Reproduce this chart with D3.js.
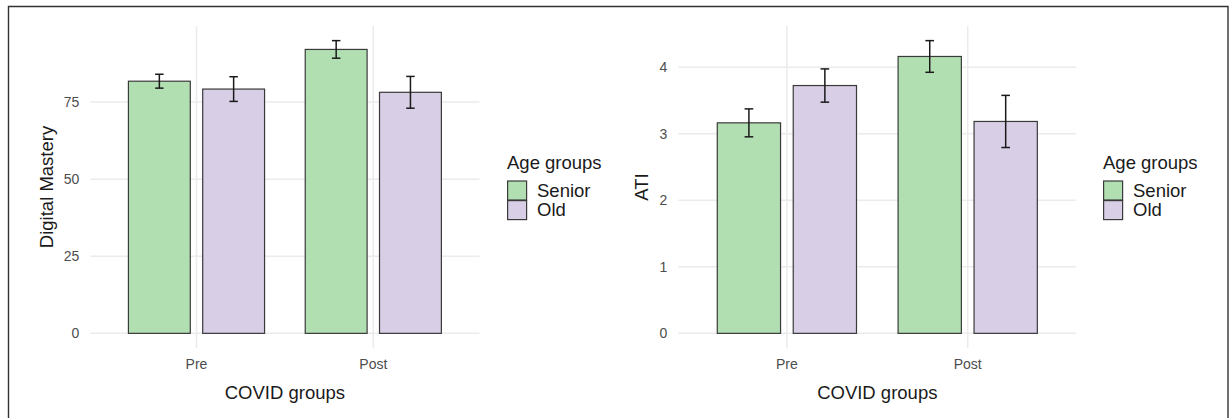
<!DOCTYPE html>
<html>
<head>
<meta charset="utf-8">
<script src="https://cdn.jsdelivr.net/npm/d3@7"></script>
<style>
  body { margin: 0; background: #fff; }
  svg { display: block; font-family: "Liberation Sans", Arial, sans-serif; }
</style>
</head>
<body>
<div id="chart"></div>
<script>
// ----------- DATA ------------
const covidGroups = ['Pre', 'Post'];
const ageGroups = ['Senior', 'Old'];

// Digital Mastery: means and error half-widths, one value per COVID group
const masterySenior = [81.75, 92.05];
const masterySeniorErr = [2.25, 2.85];
const masteryOld = [79.2, 78.15];
const masteryOldErr = [4.0, 5.15];

// ATI
const atiSenior = [3.165, 4.163];
const atiSeniorErr = [0.21, 0.238];
const atiOld = [3.726, 3.186];
const atiOldErr = [0.25, 0.392];

const masteryTicks = [0, 25, 50, 75];
const atiTicks = [0, 1, 2, 3, 4];

const colors = { Senior: '#b2dfb2', Old: '#d8cee5' };

// build rows for one panel
function makeRows(senior, seniorErr, old, oldErr) {
  const rows = [];
  covidGroups.forEach((g, i) => {
    rows.push({ covid: g, age: 'Senior', mean: senior[i], err: seniorErr[i] });
    rows.push({ covid: g, age: 'Old', mean: old[i], err: oldErr[i] });
  });
  return rows;
}

const W = 1229, H = 418;
const svg = d3.select('#chart').append('svg').attr('width', W).attr('height', H);

// outer frame (no bottom edge visible in the original)
svg.append('path')
  .attr('d', `M8.5,${H} V6.5 H1228 V${H}`)
  .attr('fill', 'none')
  .attr('stroke', '#333')
  .attr('stroke-width', 1.4);

function drawPanel(opts) {
  const rows = opts.rows;
  const left = opts.left, right = opts.right, top = 26, bottom = 348;

  const maxVal = d3.max(rows, (d) => d.mean + d.err);
  const pad = maxVal * 0.05;
  const y = d3.scaleLinear().domain([-pad, maxVal + pad]).range([bottom, top]);

  const x = d3.scaleBand().domain(covidGroups).range([left, right])
    .paddingInner(0).paddingOuter(0.1);
  const step = x.step();
  const cx = (g) => x(g) + x.bandwidth() / 2;
  const x1 = d3.scaleBand().domain(ageGroups)
    .range([-0.385 * step, 0.385 * step]).paddingInner(0.167);
  const capHalf = 0.024 * step;

  const g = svg.append('g');

  // ----------- GRID ------------
  g.selectAll('.hgrid').data(opts.ticks).enter().append('line')
    .attr('x1', left).attr('x2', right)
    .attr('y1', (d) => y(d)).attr('y2', (d) => y(d))
    .attr('stroke', '#ebebeb').attr('stroke-width', 1.5);
  g.selectAll('.vgrid').data(covidGroups).enter().append('line')
    .attr('x1', (d) => cx(d)).attr('x2', (d) => cx(d))
    .attr('y1', top).attr('y2', bottom)
    .attr('stroke', '#ebebeb').attr('stroke-width', 1.5);

  // ----------- AXES ------------
  const yAxis = g.append('g')
    .attr('transform', `translate(${left},0)`)
    .call(d3.axisLeft(y).tickValues(opts.ticks).tickFormat(d3.format('d'))
      .tickSize(0).tickPadding(11));
  yAxis.select('.domain').remove();
  yAxis.selectAll('text')
    .attr('font-size', 14).attr('fill', '#4d4d4d')
    .attr('font-family', '"Liberation Sans", Arial, sans-serif');

  const xAxis = g.append('g')
    .attr('transform', `translate(0,${bottom})`)
    .call(d3.axisBottom(x).tickSize(0).tickPadding(11));
  xAxis.select('.domain').remove();
  xAxis.selectAll('text')
    .attr('font-size', 14).attr('fill', '#4d4d4d')
    .attr('font-family', '"Liberation Sans", Arial, sans-serif');

  g.append('text')
    .attr('x', (left + right) / 2).attr('y', 399)
    .attr('text-anchor', 'middle').attr('font-size', 18.5).attr('fill', '#1a1a1a')
    .text('COVID groups');

  g.append('text')
    .attr('transform', `translate(${opts.yTitleX},${(top + bottom) / 2}) rotate(-90)`)
    .attr('text-anchor', 'middle').attr('font-size', 18.5).attr('fill', '#1a1a1a')
    .text(opts.yTitle);

  // ----------- BARS ------------
  g.selectAll('.bar').data(rows).enter().append('rect')
    .attr('x', (d) => cx(d.covid) + x1(d.age))
    .attr('width', x1.bandwidth())
    .attr('y', (d) => y(d.mean))
    .attr('height', (d) => y(0) - y(d.mean))
    .attr('fill', (d) => colors[d.age])
    .attr('stroke', '#3a3a3a').attr('stroke-width', 1.2);

  // ----------- ERROR BARS ------------
  const eb = g.selectAll('.err').data(rows).enter().append('g')
    .attr('stroke', '#1a1a1a').attr('stroke-width', 1.5);
  const ex = (d) => cx(d.covid) + x1(d.age) + x1.bandwidth() / 2;
  eb.append('line')
    .attr('x1', ex).attr('x2', ex)
    .attr('y1', (d) => y(d.mean + d.err)).attr('y2', (d) => y(d.mean - d.err));
  eb.append('line')
    .attr('x1', (d) => ex(d) - capHalf).attr('x2', (d) => ex(d) + capHalf)
    .attr('y1', (d) => y(d.mean + d.err)).attr('y2', (d) => y(d.mean + d.err));
  eb.append('line')
    .attr('x1', (d) => ex(d) - capHalf).attr('x2', (d) => ex(d) + capHalf)
    .attr('y1', (d) => y(d.mean - d.err)).attr('y2', (d) => y(d.mean - d.err));

  // ----------- LEGEND ------------
  const lg = svg.append('g').attr('transform', `translate(${opts.legendX},0)`);
  lg.append('text').attr('x', 0).attr('y', 168.5)
    .attr('font-size', 18.5).attr('fill', '#1a1a1a').text('Age groups');
  const item = lg.selectAll('.key').data(ageGroups).enter().append('g')
    .attr('transform', (d, i) => `translate(0,${181 + i * 19.6})`);
  item.append('rect')
    .attr('x', 0.6).attr('y', 0)
    .attr('width', 19).attr('height', 19)
    .attr('fill', (d) => colors[d])
    .attr('stroke', '#3a3a3a').attr('stroke-width', 1.2);
  item.append('text')
    .attr('x', 30).attr('y', 15.5)
    .attr('font-size', 18.5).attr('fill', '#1a1a1a')
    .text((d) => d);
}

drawPanel({
  rows: makeRows(masterySenior, masterySeniorErr, masteryOld, masteryOldErr),
  ticks: masteryTicks,
  left: 90.4, right: 479.4,
  yTitle: 'Digital Mastery', yTitleX: 53,
  legendX: 507,
});

drawPanel({
  rows: makeRows(atiSenior, atiSeniorErr, atiOld, atiOldErr),
  ticks: atiTicks,
  left: 678.4, right: 1076.2,
  yTitle: 'ATI', yTitleX: 647.5,
  legendX: 1103,
});
</script>
</body>
</html>
